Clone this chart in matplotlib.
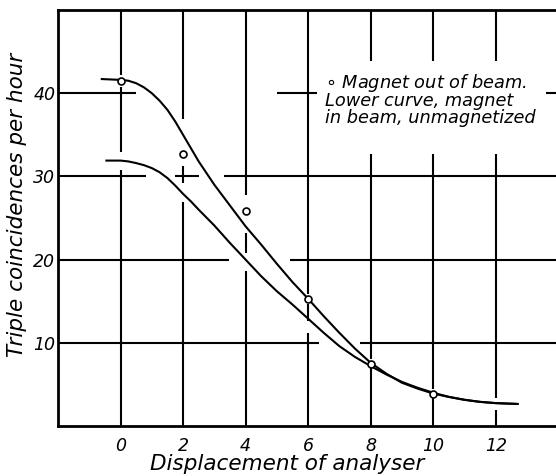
import matplotlib
matplotlib.use('Agg')
import matplotlib.pyplot as plt

# ── data ──
displacement = [0, 2, 4, 6, 8, 10]
out_of_beam = [41.5, 32.7, 25.9, 15.3, 7.5, 3.9]   # open circles

# upper curve (magnet out of beam)
upper_x = [-0.6, 0, 0.25, 0.5, 0.75, 1, 1.25, 1.5, 1.75, 2, 2.25, 2.5, 3, 3.5,
           4, 4.5, 5, 5.5, 6, 6.5, 7, 7.5, 8, 8.5, 9, 9.5, 10, 10.5, 11, 11.5,
           12, 12.7]
upper_y = [41.7, 41.6, 41.5, 41.2, 40.7, 40.0, 39.1, 38.0, 36.6, 35.0, 33.4,
           31.8, 29.0, 26.5, 24.0, 21.8, 19.5, 17.3, 15.3, 13.2, 11.2, 9.3,
           7.6, 6.3, 5.2, 4.5, 3.9, 3.5, 3.15, 2.9, 2.75, 2.65]

# lower curve (magnet in beam, unmagnetized)
lower_x = [-0.45, 0, 0.25, 0.5, 0.75, 1, 1.25, 1.5, 1.75, 2, 2.25, 2.5, 3, 3.5,
           4, 4.5, 5, 5.5, 6, 6.5, 7, 7.5, 8, 8.5, 9, 9.5, 10, 10.5, 11, 11.5,
           12, 12.7]
lower_y = [31.9, 31.9, 31.8, 31.6, 31.35, 31.0, 30.5, 29.8, 28.9, 27.9, 27.0,
           26.0, 24.1, 22.0, 20.0, 18.0, 16.2, 14.6, 12.9, 11.2, 9.6, 8.3,
           7.2, 6.2, 5.3, 4.6, 4.0, 3.5, 3.15, 2.9, 2.75, 2.65]

x_ticks = [0, 2, 4, 6, 8, 10, 12]
y_ticks = [10, 20, 30, 40]

# broken grid lines, as in the hand-drawn original (style only)
v_grid = {
    0: [(0, 30.8), (32.9, 40.8), (42.2, 50)],
    2: [(0, 26.9), (29.2, 31.2), (36.9, 50)],
    4: [(0, 18.6), (20.8, 23.2), (27.8, 50)],
    6: [(0, 11.2), (12.6, 14.7), (15.9, 50)],
    8: [(0, 7.0), (8.0, 32.7), (43.9, 50)],
    10: [(0, 3.4), (4.4, 32.7), (43.9, 50)],
    12: [(0, 1.9), (3.4, 32.7), (43.9, 50)],
}
h_grid = {
    10: [(-2, 6.34), (7.65, 14)],
    20: [(-2, 3.46), (5.43, 14)],
    30: [(-2, 0.8), (1.75, 2.5), (3.3, 14)],
    40: [(-2, 0.5), (5.0, 6.3), (13.6, 14)],
}

FONT = dict(family='DejaVu Sans', style='italic')

fig = plt.figure(figsize=(5.56, 4.76), dpi=100, facecolor='white')
ax = fig.add_axes([58 / 556, 1 - 426 / 476, 1 - 58 / 556, 416 / 476])
ax.set_xlim(-2, 13.93)
ax.set_ylim(0, 50)

for xv, segs in v_grid.items():
    for y0, y1 in segs:
        ax.vlines(xv, y0, y1, color='black', lw=1.5, zorder=1)
for yv, segs in h_grid.items():
    for x0, x1 in segs:
        ax.hlines(yv, x0, x1, color='black', lw=1.5, zorder=1)

ax.plot(upper_x, upper_y, color='black', lw=1.5, zorder=2)
ax.plot(lower_x, lower_y, color='black', lw=1.5, zorder=2)
ax.plot(displacement, out_of_beam, 'o', ms=5, mfc='white', mec='black',
        mew=1.2, zorder=3, clip_on=False)

for side in ['left', 'bottom', 'top']:
    ax.spines[side].set_linewidth(2)
ax.spines['right'].set_visible(False)

ax.set_xticks(x_ticks)
ax.set_xticklabels([str(t) for t in x_ticks], fontsize=12.5, **FONT)
ax.set_yticks(y_ticks)
ax.set_yticklabels([str(t) for t in y_ticks], fontsize=12.5, **FONT)
ax.tick_params(axis='x', length=0, pad=8)
ax.tick_params(axis='y', length=0, pad=2)

ax.set_xlabel('Displacement of analyser', fontsize=15.5, **FONT)
ax.xaxis.set_label_coords(0.461, -0.068)
ax.set_ylabel('Triple coincidences per hour', fontsize=15.5, **FONT)
ax.yaxis.set_label_coords(-0.062, 0.531)

ax.text(0.536, 0.852,
        '$\\circ$ Magnet out of beam.\nLower curve, magnet\nin beam, unmagnetized',
        transform=ax.transAxes, ha='left', va='top', fontsize=12.8,
        linespacing=0.92, **FONT)

plt.savefig('out.png', dpi=100, facecolor='white')
